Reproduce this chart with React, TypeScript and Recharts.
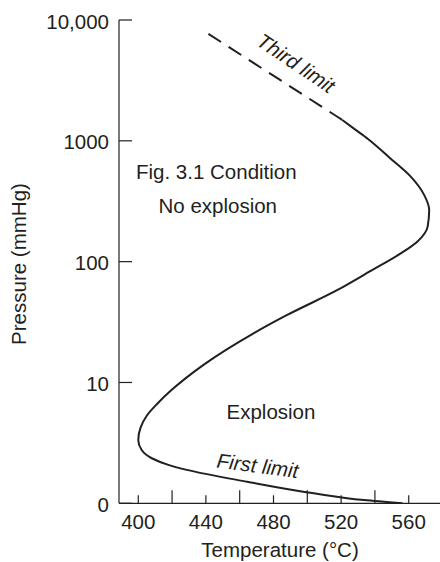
import React from "react";
import { LineChart, Line, XAxis, YAxis, Customized } from "recharts";

// Curve traced along its path (temperature °C, pressure mmHg)
const dashT = [441.5, 481.1, 520.7];
const dashP = [7670, 3380, 1489];
const solidT = [520.7, 528.2, 535.9, 549.0, 561.2, 569.1, 572.1, 571.2, 565.2, 555.3, 537.5, 517.9, 488.1, 468.2, 438.6, 419.8, 411.1, 404.9, 401.3, 400.0, 402.0, 408.0, 417.8, 428.7, 464.3, 503.9, 533.5, 556.3];
const solidP = [1489, 1243, 1037, 718, 505, 357, 268, 195, 147, 117, 83.8, 58.3, 36.2, 25.5, 14.0, 8.69, 6.64, 5.28, 4.21, 3.34, 2.76, 2.36, 2.08, 1.89, 1.51, 1.21, 1.065, 1.0];

const xTicks = [400, 420, 440, 460, 480, 500, 520, 540, 560];
const xLabeled = [400, 440, 480, 520, 560];
const yTicks = [1, 10, 100, 1000, 10000];
const yTickLabels = ["0", "10", "100", "1000", "10,000"];

const data = [
  ...dashT.map((t, i) => ({ t, dash: dashP[i], solid: i === dashT.length - 1 ? solidP[0] : null })),
  ...solidT.slice(1).map((t, i) => ({ t, dash: null, solid: solidP[i + 1] })),
];

const INK = "#231f20";
const FONT = "'Liberation Sans', Arial, Helvetica, sans-serif";
const FS = 20.5;

const XTick = (props: any) => {
  const { x, y, payload } = props;
  const labeled = xLabeled.includes(payload.value);
  return (
    <g>
      <line x1={x} x2={x} y1={y} y2={y - (labeled ? 8 : 13)} stroke={INK} strokeWidth={1.2} />
      {labeled && (
        <text x={x} y={y + 18} textAnchor="middle" dominantBaseline="central" fill={INK} fontSize={FS} fontFamily={FONT}>
          {String(payload.value)}
        </text>
      )}
    </g>
  );
};

const YTick = (props: any) => {
  const { x, y, payload } = props;
  const idx = yTicks.indexOf(payload.value);
  return (
    <g>
      <line x1={x} x2={x + 13} y1={y} y2={y} stroke={INK} strokeWidth={1.2} />
      <text x={x - 10} y={y + 1} textAnchor="end" dominantBaseline="central" fill={INK} fontSize={FS} fontFamily={FONT}>
        {idx >= 0 ? yTickLabels[idx] : ""}
      </text>
    </g>
  );
};

const Annotations = () => (
  <g fill={INK} fontFamily={FONT} fontSize={FS}>
    <text x={136} y={179}>Fig. 3.1 Condition</text>
    <text x={158.5} y={213.3}>No explosion</text>
    <text x={226.5} y={419}>Explosion</text>
    <text x={256.7} y={472.8} textAnchor="middle" fontStyle="italic" transform="rotate(7.5 256.7 472.8)">First limit</text>
    <text x={292} y={69} textAnchor="middle" fontStyle="italic" transform="rotate(34 292 69)">Third limit</text>
    <text x={280} y={557} textAnchor="middle">Temperature (°C)</text>
    <text x={26} y={264} textAnchor="middle" transform="rotate(-90 26 264)">Pressure (mmHg)</text>
  </g>
);

export default function App() {
  return (
    <div style={{ position: "absolute", left: 0, top: 0, width: 440, height: 562, background: "#fff" }}>
      <LineChart width={440} height={562} data={data} margin={{ top: 20, right: 0, bottom: 0, left: 0 }}>
        <XAxis
          dataKey="t"
          type="number"
          domain={[388.6, 578.5]}
          ticks={xTicks}
          tick={<XTick />}
          tickSize={0}
          tickMargin={0}
          tickLine={false}
          axisLine={{ stroke: INK, strokeWidth: 1.2 }}
          height={58.7}
          allowDataOverflow
          interval={0}
        />
        <YAxis
          type="number"
          scale="log"
          domain={[1, 10000]}
          ticks={yTicks}
          tick={<YTick />}
          tickSize={0}
          tickMargin={0}
          tickLine={false}
          axisLine={{ stroke: INK, strokeWidth: 1.2 }}
          width={119}
          allowDataOverflow
          interval={0}
        />
        <Line dataKey="dash" type="monotoneY" stroke={INK} strokeWidth={2} strokeDasharray="15 9" dot={false} activeDot={false} isAnimationActive={false} connectNulls={false} />
        <Line dataKey="solid" type="monotoneY" stroke={INK} strokeWidth={2} dot={false} activeDot={false} isAnimationActive={false} connectNulls={false} />
        <Customized component={Annotations} />
      </LineChart>
    </div>
  );
}
